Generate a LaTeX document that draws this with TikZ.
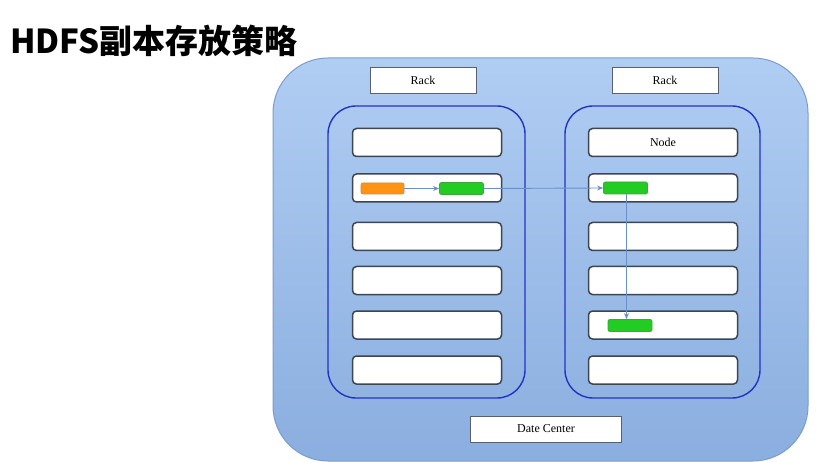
\documentclass[tikz,border=0pt]{standalone}
\usepackage{fontspec}
\setmainfont{Liberation Serif}
\newfontfamily\cjk{Noto Sans CJK SC}
\usetikzlibrary{arrows.meta}
\definecolor{dcfillT}{HTML}{B0CDF3}
\definecolor{dcfillB}{HTML}{8AAEDF}
\definecolor{dcline}{HTML}{7C9DCB}
\definecolor{rackblue}{HTML}{2233C4}
\definecolor{nodeline}{HTML}{3E4450}
\definecolor{blkgreen}{HTML}{22CC22}
\definecolor{blkgreenline}{HTML}{3BA83B}
\definecolor{blkorange}{HTML}{FF9414}
\definecolor{blkorangeline}{HTML}{D9893A}
\definecolor{arrowc}{HTML}{6B8FC9}
\definecolor{labline}{HTML}{5A6070}
\tikzset{
  dcbox/.style={draw=dcline, line width=1pt, rounded corners=55pt, top color=dcfillT, bottom color=dcfillB},
  rackbox/.style={draw=rackblue, line width=1.4pt, rounded corners=28pt},
  nodebox/.style={draw=nodeline, line width=1.5pt, fill=white, rounded corners=4pt, minimum width=149pt, minimum height=28pt, inner sep=0pt, font=\fontsize{12}{12}\selectfont},
  labbox/.style={draw=labline, line width=0.9pt, fill=white, minimum height=26pt, inner sep=0pt, font=\fontsize{12}{12}\selectfont},
  greenblk/.style={draw=blkgreenline, line width=0.8pt, fill=blkgreen, rounded corners=2pt, minimum width=44pt, minimum height=12pt, inner sep=0pt},
  orangeblk/.style={draw=blkorangeline, line width=0.8pt, fill=blkorange, rounded corners=2pt, minimum width=43pt, minimum height=11pt, inner sep=0pt},
  repl/.style={draw=arrowc, line width=0.9pt, -{Stealth[length=6pt,width=5pt]}}
}
\begin{document}
\begin{tikzpicture}[x=1pt,y=-1pt]
\useasboundingbox[fill=white] (0,0) rectangle (816,462);
% title
\node[anchor=west, inner sep=0pt, font=\cjk\bfseries\fontsize{33}{33}\selectfont] (title) at (10,41) {HDFS副本存放策略};
% data center
\path[dcbox] (273,58) rectangle (808,461);
\node[labbox, minimum width=151pt] (dc) at (546,429) {Date Center};
% rack labels
\node[labbox, minimum width=106pt] (rackL) at (423,80) {Rack};
\node[labbox, minimum width=106pt] (rackR) at (665,80) {Rack};
% rack containers
\draw[rackbox] (328,106) rectangle (525,398);
\draw[rackbox] (565,106) rectangle (760,398);
% nodes
\foreach \i/\y in {1/142.5,2/188,3/236.5,4/280.5,5/325,6/370}{
  \node[nodebox] (L\i) at (427,\y) {};
}
\foreach \i/\y in {2/188,3/236.5,4/280.5,5/325,6/370}{
  \node[nodebox] (R\i) at (663,\y) {};
}
\node[nodebox] (R1) at (663,142.5) {Node};
% blocks
\node[orangeblk] (o1) at (382.5,188.5) {};
\node[greenblk] (g1) at (461.5,188.5) {};
\node[greenblk] (g2) at (625.5,188) {};
\node[greenblk] (g3) at (630,325.5) {};
% replication arrows
\draw[repl] (o1.east) -- (g1.west);
\draw[repl] (g1.east) -- (g2.west);
\draw[repl] (g2.south) ++(1,0) coordinate (g2s) -- (g2s |- g3.north);
\end{tikzpicture}
\end{document}
